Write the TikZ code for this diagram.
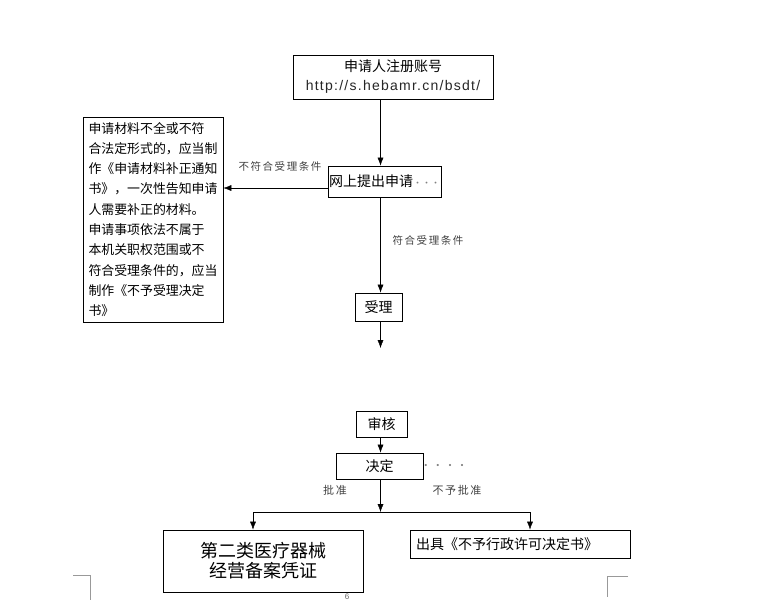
\documentclass[tikz,border=0pt]{standalone}
\usepackage{fontspec}
\setmainfont{Liberation Sans}
\newfontfamily\cjk{Noto Sans CJK SC}
\newfontfamily\cjkspaced[LetterSpace=15]{Noto Sans CJK SC}
\newfontfamily\urlfont[LetterSpace=9]{Liberation Sans}
\usetikzlibrary{arrows.meta,positioning}

\begin{document}
\begin{tikzpicture}[x=1pt,y=-1pt, line/.style={-{Latex[length=8pt,width=6pt]}}, box/.style={rectangle,draw,line width=0.8pt,inner sep=0pt,align=center,font=\cjk\fontsize{14}{19}\selectfont}, note/.style={inner sep=0pt,text=black!75,font=\cjkspaced\fontsize{10.5}{12}\selectfont}]
\useasboundingbox (0,0) rectangle (768,603);
\node[box,minimum width=200pt,minimum height=44pt] (reg) at (393,77) {申请人注册账号\\{\urlfont\fontsize{14}{16}\selectfont\color{black!85}http://s.hebamr.cn/bsdt/}};
\node[box,minimum width=113pt,minimum height=31pt] (online) at (384.5,181.5) {网上提出申请{\color{black!50}\fontsize{9}{9}\selectfont ···}};
\node[box,minimum width=140pt,minimum height=205pt,align=left,text width=129pt,font=\cjk\fontsize{12.9}{20.3}\selectfont] (reject) at (153,219.5) {申请材料不全或不符\\合法定形式的，应当制\\作《申请材料补正通知\\书》，一次性告知申请\\人需要补正的材料。\\申请事项依法不属于\\本机关职权范围或不\\符合受理条件的，应当\\制作《不予受理决定\\书》};
\node[box,minimum width=47pt,minimum height=28pt] (accept) at (378.5,307) {受理};
\node[box,minimum width=51pt,minimum height=26pt] (review) at (381.5,424) {审核};
\node[box,minimum width=87pt,minimum height=26pt] (decide) at (379.5,466) {决定};
\node[box,minimum width=200pt,minimum height=62pt,font=\cjk\fontsize{18}{20}\selectfont] (cert) at (263,561) {第二类医疗器械\\经营备案凭证};
\node[box,minimum width=220pt,minimum height=28pt,align=left,text width=208pt] (refuse) at (520,544) {出具《不予行政许可决定书》};
\node[note] (nofit) at (280,166) {不符合受理条件};
\node[note] (fit) at (428,240) {符合受理条件};
\node[note,font=\cjkspaced\fontsize{11}{13}\selectfont] (ok) at (335,490) {批准};
\node[note,font=\cjkspaced\fontsize{11}{13}\selectfont] (notok) at (457,490) {不予批准};
\node[note,text=black!50] (dots) at (444,467) {····};
\node[inner sep=0pt,text=black!60,font=\fontsize{8}{8}\selectfont] (page) at (347,597) {6};
\coordinate (col) at (380.5,0);
\coordinate (stop) at (380.5,348);
\coordinate (split) at (380.5,512);
\coordinate (lsplit) at (253,512);
\coordinate (rsplit) at (530,512);
\draw[line] (reg.south -| col) -- (online.north -| col);
\draw[line] ([yshift=-6.5pt]online.west) -- ([yshift=-6.5pt]online.west -| reject.east);
\draw[line] (online.south -| col) -- (accept.north -| col);
\draw[line] (accept.south -| col) -- (stop);
\draw[line] (review.south -| col) -- (decide.north -| col);
\draw[line] (decide.south -| col) -- (split);
\draw[line width=0.8pt] (lsplit) -- (rsplit);
\draw[line] (lsplit) -- (lsplit |- cert.north);
\draw[line] (rsplit) -- (rsplit |- refuse.north);
% page corner marks
\draw[black!40] (73,575) -- (90,575) -- (90,600);
\draw[black!40] (628,576) -- (607,576) -- (607,597);
\end{tikzpicture}
\end{document}
